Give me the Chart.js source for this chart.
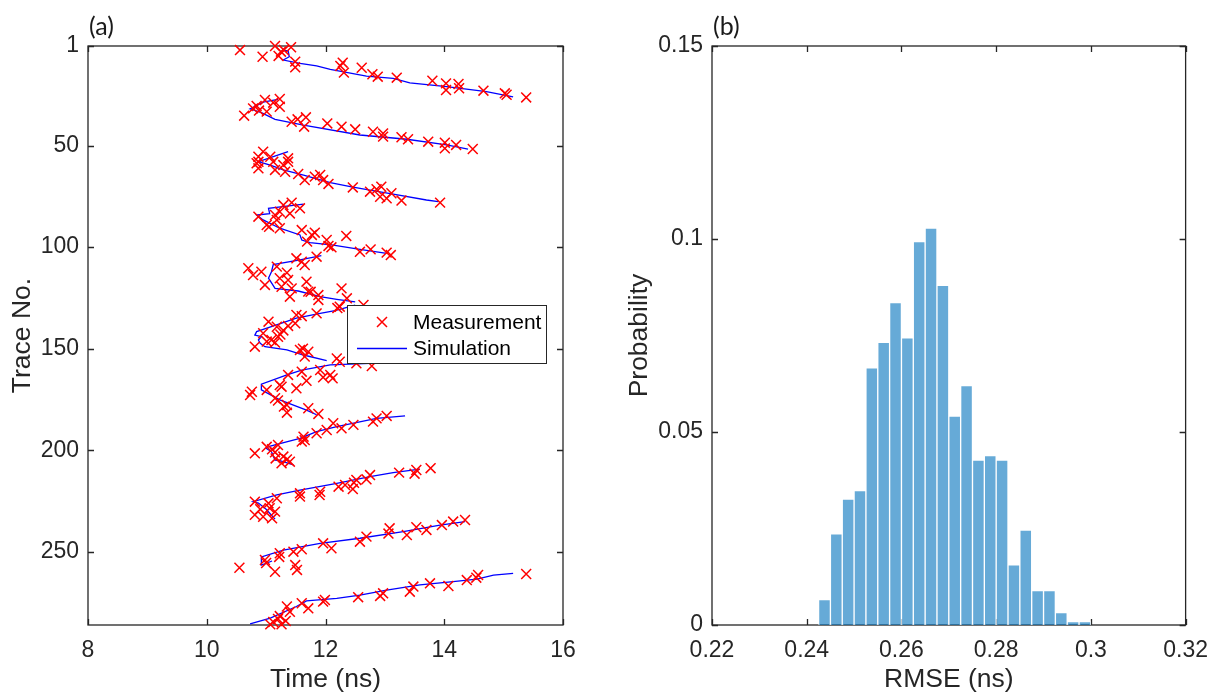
<!DOCTYPE html>
<html><head><meta charset="utf-8">
<script src="https://cdn.jsdelivr.net/npm/chart.js@4.4.0/dist/chart.umd.min.js"></script>
<style>
html,body{margin:0;padding:0;background:#fff;}
#wrap{position:relative;width:1220px;height:696px;overflow:hidden;background:#fff;}
#c1{position:absolute;left:0;top:0;}
#c2{position:absolute;left:600px;top:0;}
</style></head><body>
<div id="wrap"><canvas id="c1" width="600" height="696"></canvas><canvas id="c2" width="620" height="696"></canvas></div>
<script>
// ---------- Panel (a) data ----------
const measTime = [
 10.56,10.94,11.15,11.42,11.25,11.21,11.3,11.49,11.49,12.29,12.25,12.31,12.61,12.79,12.88,13.2,13.8,14.03,14.03,14.24,14.25,14.66,15.02,15.05,15.38,
 10.63,10.78,10.84,10.88,10.98,11.01,11.12,11.23,11.23,11.43,11.53,11.67,11.64,12.03,12.27,12.5,12.8,12.97,12.97,13.28,13.39,13.73,14.01,14.01,14.2,14.48,
 10.95,10.87,11.07,11.37,10.84,10.87,11.12,11.37,11.29,10.87,11.15,11.32,11.54,11.91,11.82,11.65,11.96,12.05,12.94,12.46,12.86,12.75,13.11,12.92,13.03,13.28,13.93,
 11.43,11.29,11.57,11.23,11.4,11.15,10.87,11.18,11.01,11.05,11.23,11.6,11.82,11.77,12.35,12.02,11.69,12.05,12.1,12.76,12.58,13.03,13.1,
 11.85,11.51,11.6,11.65,11.18,10.7,10.92,11.35,10.78,11.23,11.37,11.68,10.98,11.26,11.43,12.27,11.71,11.75,11.88,11.4,12.36,11.88,
 12.64,12.24,12.2,11.85,11.51,11.6,11.04,11.49,11.37,11.18,11.29,10.95,11.24,11.2,11.09,11.01,11.15,10.81,11.62,11.57,11.71,11.65,12.19,12.24,12.52,12.78,
 11.91,11.6,11.37,12.08,11.96,12.12,11.68,11.23,11.26,11.51,11.01,10.76,10.73,11.15,11.2,11.35,11.3,11.71,11.35,11.88,
 13.03,12.86,12.8,12.13,12.47,12.27,12.02,11.85,11.63,11.65,11.6,11.2,11.01,11.1,11.15,10.81,11.29,11.16,11.35,11.4,11.26,
 13.77,13.53,13.24,13.5,12.75,12.69,12.52,12.48,12.33,12.22,12.46,11.91,11.57,11.9,11.57,11.18,10.81,11.04,11.06,10.9,11.15,10.81,10.95,11.1,
 14.35,14.15,13.96,13.53,13.08,13.7,13.06,13.37,12.69,12.58,11.96,12.1,11.6,11.46,11.23,11.22,10.98,11.0,11.49,10.55,11.52,11.15,
 15.38,14.57,14.54,14.38,13.76,14.07,13.48,13.42,12.97,12.92,12.55,11.99,11.96,11.6,11.35,11.71,11.4,11.23,11.2,11.33,11.12,11.07,11.26
];
const measTrace = [
 3,6.3,1,1.6,3.8,5.9,3,8.7,11.5,9.2,10.8,14.1,11.7,14.9,16.1,16.6,18.1,19.4,22.7,19.7,21.8,23,24.3,25,26.3,
 35.3,31.7,30.5,32.8,27.6,33.3,28.9,27.1,30.9,38.3,37.1,36.1,40.7,39.1,40.7,42,43.2,44,45.6,45.9,46.9,48.1,48.6,51.4,49.7,51.7,
 53,55.5,55.5,56.3,58.7,58,58,58,59.6,61.2,62,62.9,64,64.5,65.3,67,67,68.9,70.3,70.6,71.5,72.7,73.5,75.2,76,77.1,78.1,
 78.1,79.3,80.9,82.6,83.4,84.2,85,86.6,89.1,90,90.7,91.6,92.9,94,94.5,96.5,97.3,99.4,100.1,101.1,102.3,102.7,103.9,
 104.7,105.5,107.2,108.8,109.6,110.4,112.1,112.6,113.7,115.3,116.2,117,118.6,119.5,120.3,120.3,121.9,122,123.6,124.4,125.2,126,
 128.5,129.3,130,132.6,133.4,134,136.7,137.5,138.8,139.2,141,142.4,143,144.1,145.7,146.5,147,149,150,150.6,151.5,153.9,154.8,156.4,157.2,158.5,
 160.5,161.3,162.9,162.9,164.1,164.6,165.8,167.9,168.7,169.5,170.3,171.2,172.8,174.4,175.5,177.7,178.5,179.3,181.5,182.1,
 183.1,184.3,185.9,186.7,187.5,189.2,190,191.6,193.3,195,195.7,197.4,198.3,199.5,201,201.5,203.1,204,204.5,205.6,206.4,
 208.8,209.7,211,211.5,212.2,214.3,214.6,216,217.1,217.9,219.1,220.4,221.2,222,222.8,223.6,225.3,226.1,228.5,229,230.2,231.8,232.7,233.5,
 234.3,235.1,236.8,237.9,238.4,239.2,241,241.7,242.5,245,245.8,248.2,248.7,249.9,250.7,252.5,254,255.5,256.5,257.8,258.9,259.8,
 260.9,261.4,262.7,263.9,265.5,266.8,267.1,269.6,270.4,271.7,272.3,273.7,274.5,275.3,276.9,277.8,279.5,281.6,283,284,284.5,285.7,285.7
];
// simulation curves, null separates sweeps
const simTime = [
 11.26,11.37,11.39,11.29,11.57,11.85,12.08,12.69,13.14,13.42,14.04,14.71,15.16,null,
 11.2,10.95,10.73,10.92,11.15,11.63,12.58,13.37,14.04,14.4,null,
 11.37,10.87,11.07,11.29,11.63,12.08,12.44,12.75,13.14,13.7,13.9,null,
 11.63,11.04,11.06,10.84,10.95,11.23,11.57,11.6,11.74,12.13,12.58,13.03,null,
 11.93,11.57,11.12,11.09,11.04,11.15,11.54,11.91,12.19,12.5,null,
 12.5,12.16,11.91,11.51,11.0,10.84,10.81,10.92,10.87,10.9,10.98,11.35,11.63,12.02,null,
 12.75,12.08,11.6,11.35,10.92,10.92,11.23,11.68,11.85,null,
 13.34,12.86,12.19,11.85,11.57,11.07,11.0,11.09,11.15,11.23,11.46,null,
 13.59,13.14,12.75,12.19,11.57,11.18,10.78,10.87,11.0,11.15,null,
 14.35,13.93,13.31,12.58,11.91,11.29,10.92,10.92,11.1,null,
 15.16,14.83,14.55,14.15,13.59,13.03,12.58,12.19,11.68,11.51,11.07,10.73
];
const simTrace = [
 3.3,3.3,6.3,7.9,9.5,10.8,12.5,15.8,16.9,19.1,21,23.5,26,null,
 27.3,28.6,32,33.8,37.1,39.9,44.8,46.9,49.7,51.8,null,
 53,57.9,59.6,62,64.5,68.3,70.3,71.9,73.9,76.8,77.6,null,
 78.8,80.9,83.5,84.2,86.6,90.7,94,96.5,97.8,99,101.1,103.1,null,
 104.2,106.3,108.6,112.1,115.3,120.3,121.6,124.4,125.7,127,null,
 128.5,131.3,132.6,135,140,141.6,143.3,144.1,145.7,147.3,149,150.6,153.1,155.9,null,
 157.2,158,160.5,162.9,167.5,170.3,175.2,180.2,182.5,null,
 183.1,184.3,188.4,190.8,194.1,197.9,199,200.7,204.8,205.1,207.2,null,
 209.3,211,213,216.3,219.6,222,225.3,226,229,233.9,null,
 235.1,236.8,240,243.3,245.8,249.1,252.5,256.5,254.5,null,
 260.6,261.4,263.4,264.7,266.3,268.8,271.3,272.9,274.1,276.9,282.6,285.5
];
const timeTicks = [8, 10, 12, 14, 16];
const traceTicks = [1, 50, 100, 150, 200, 250];
const legendLabels = ['Measurement', 'Simulation'];

// ---------- Panel (b) data ----------
const rmseCenters = [0.24375,0.24625,0.24875,0.25125,0.25375,0.25625,0.25875,0.26125,0.26375,0.26625,0.26875,0.27125,
 0.27375,0.27625,0.27875,0.28125,0.28375,0.28625,0.28875,0.29125,0.29375,0.29625,0.29875];
const rmseProb = [0.0066,0.0236,0.0326,0.0348,0.0666,0.0732,0.0835,0.0744,0.0993,0.1028,0.0880,0.0541,
 0.0620,0.0427,0.0439,0.0427,0.0156,0.0246,0.0089,0.0089,0.0032,0.0009,0.0009];
const rmseTicks = [0.22, 0.24, 0.26, 0.28, 0.30, 0.32];
const rmseTickLabels = ['0.22', '0.24', '0.26', '0.28', '0.3', '0.32'];
const probTicks = [0, 0.05, 0.10, 0.15];
const probTickLabels = ['0', '0.05', '0.1', '0.15'];

// ---------- styling ----------
const AX = '#262626';
const FONT = "'Liberation Sans', Arial, Helvetica, sans-serif";
const TICKFONT = {family: FONT, size: 23};
const TITLEFONT = {family: FONT, size: 26.5};

function frame(id, panelLabel) {
  return {
    id: id,
    beforeDatasetsDraw(chart) {
      const {ctx, chartArea: a, scales} = chart;
      ctx.save();
      ctx.strokeStyle = AX; ctx.lineWidth = 1.3;
      ctx.strokeRect(a.left, a.top, a.right - a.left, a.bottom - a.top);
      const tl = 6;
      ctx.beginPath();
      scales.x.ticks.forEach(t => {
        const p = Math.round(scales.x.getPixelForValue(t.value)) + 0.5;
        ctx.moveTo(p, a.bottom); ctx.lineTo(p, a.bottom - tl);
        ctx.moveTo(p, a.top); ctx.lineTo(p, a.top + tl);
      });
      scales.y.ticks.forEach(t => {
        const p = Math.round(scales.y.getPixelForValue(t.value)) + 0.5;
        ctx.moveTo(a.left, p); ctx.lineTo(a.left + tl, p);
        ctx.moveTo(a.right, p); ctx.lineTo(a.right - tl, p);
      });
      ctx.stroke();
      ctx.restore();
    },
    afterDraw(chart) {
      const {ctx, chartArea: a} = chart;
      ctx.save();
      ctx.fillStyle = '#1a1a1a';
      ctx.font = "25px Lato, 'Open Sans', sans-serif";
      ctx.textAlign = 'left'; ctx.textBaseline = 'middle';
      ctx.fillText(panelLabel, a.left + 1, 27);
      ctx.restore();
    }
  };
}

const legendPlugin = {
  id: 'legendBox',
  afterDatasetsDraw(chart) {
    const {ctx} = chart;
    const x0 = 347, y0 = 305, w = 199, h = 58;
    ctx.save();
    ctx.fillStyle = '#fff';
    ctx.fillRect(x0, y0, w, h);
    ctx.strokeStyle = AX; ctx.lineWidth = 1;
    ctx.strokeRect(x0 + 0.5, y0 + 0.5, w, h);
    ctx.strokeStyle = '#ff0000'; ctx.lineWidth = 1.5;
    ctx.beginPath();
    ctx.moveTo(382 - 5, 322 - 5); ctx.lineTo(382 + 5, 322 + 5);
    ctx.moveTo(382 - 5, 322 + 5); ctx.lineTo(382 + 5, 322 - 5);
    ctx.stroke();
    ctx.strokeStyle = '#0000ff'; ctx.lineWidth = 1.5;
    ctx.beginPath(); ctx.moveTo(357, 348.5); ctx.lineTo(407, 348.5); ctx.stroke();
    ctx.fillStyle = '#000';
    ctx.font = '21px ' + FONT;
    ctx.textAlign = 'left'; ctx.textBaseline = 'middle';
    ctx.fillText(legendLabels[0], 413, 323);
    ctx.fillText(legendLabels[1], 413, 349);
    ctx.restore();
  }
};

// ---------- Chart (a) ----------
const measPts = measTime.map((t, i) => ({x: t, y: measTrace[i]}));
const simPts = simTime.map((t, i) => ({x: t, y: simTrace[i]}));

new Chart(document.getElementById('c1'), {
  type: 'scatter',
  data: {
    datasets: [
      {label: 'Simulation', data: simPts, showLine: true, borderColor: '#0000ff', borderWidth: 1.3,
       pointRadius: 0, pointHoverRadius: 0, spanGaps: false, tension: 0, order: 2, clip: false},
      {label: 'Measurement', data: measPts, showLine: false, pointStyle: 'crossRot', pointRadius: 7,
       pointBorderColor: '#ff0000', borderColor: '#ff0000', pointBorderWidth: 1.5, pointBackgroundColor: '#ff0000',
       order: 1, clip: false}
    ]
  },
  options: {
    responsive: false, animation: false, devicePixelRatio: 1,
    layout: {padding: {left: 0, right: 37, top: 46, bottom: 0}},
    plugins: {legend: {display: false}, tooltip: {enabled: false}},
    scales: {
      x: {
        type: 'linear', min: 8, max: 16,
        grid: {display: false, drawTicks: false}, border: {display: false},
        afterBuildTicks: s => { s.ticks = timeTicks.map(v => ({value: v})); },
        afterFit: s => { s.height = 71; },
        ticks: {color: AX, font: TICKFONT, padding: 12, maxRotation: 0, autoSkip: false,
                callback: v => String(v)},
        title: {display: true, text: 'Time (ns)', color: AX, font: TITLEFONT, padding: {top: 0, bottom: 0}}
      },
      y: {
        type: 'linear', min: 1, max: 286, reverse: true,
        grid: {display: false, drawTicks: false}, border: {display: false},
        afterBuildTicks: s => { s.ticks = traceTicks.map(v => ({value: v})); },
        afterFit: s => { s.width = 88; },
        ticks: {color: AX, font: TICKFONT, padding: 9, autoSkip: false, callback: v => String(v)},
        title: {display: true, text: 'Trace No.', color: AX, font: TITLEFONT, padding: {top: 7, bottom: 0}}
      }
    }
  },
  plugins: [frame('frameA', '(a)'), legendPlugin]
});

// ---------- Chart (b) ----------
new Chart(document.getElementById('c2'), {
  type: 'bar',
  data: {
    datasets: [{
      label: 'RMSE', data: rmseCenters.map((c, i) => ({x: c, y: rmseProb[i]})),
      backgroundColor: 'rgba(0,114,189,0.6)', borderColor: 'rgba(255,255,255,0.75)', borderWidth: 1,
      borderSkipped: 'start', barPercentage: 1, categoryPercentage: 1, grouped: false
    }]
  },
  options: {
    responsive: false, animation: false, devicePixelRatio: 1,
    layout: {padding: {left: 0, right: 33, top: 46, bottom: 0}},
    plugins: {legend: {display: false}, tooltip: {enabled: false}},
    scales: {
      x: {
        type: 'linear', min: 0.22, max: 0.32, offset: false,
        grid: {display: false, drawTicks: false}, border: {display: false},
        afterBuildTicks: s => { s.ticks = rmseTicks.map(v => ({value: v})); },
        afterFit: s => { s.height = 71; },
        ticks: {color: AX, font: TICKFONT, padding: 12, maxRotation: 0, autoSkip: false,
                callback: (v, i) => rmseTickLabels[i]},
        title: {display: true, text: 'RMSE (ns)', color: AX, font: TITLEFONT, padding: {top: 0, bottom: 0}}
      },
      y: {
        type: 'linear', min: 0, max: 0.15,
        grid: {display: false, drawTicks: false}, border: {display: false},
        afterBuildTicks: s => { s.ticks = probTicks.map(v => ({value: v})); },
        afterFit: s => { s.width = 112; },
        ticks: {color: AX, font: TICKFONT, padding: 9, autoSkip: false, callback: (v, i) => probTickLabels[i]},
        title: {display: true, text: 'Probability', color: AX, font: TITLEFONT, padding: {top: 24, bottom: 0}}
      }
    }
  },
  plugins: [frame('frameB', '(b)')]
});
</script>
</body></html>
